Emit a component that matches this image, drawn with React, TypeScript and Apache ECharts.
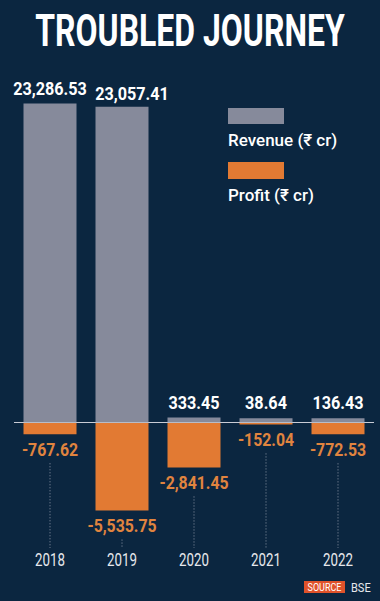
import React, { useEffect, useRef } from "react";
import * as echarts from "echarts";

const title = "TROUBLED JOURNEY";
const years = ["2018", "2019", "2020", "2021", "2022"];
const revenue = [23286.53, 23057.41, 333.45, 38.64, 136.43];
const profit = [-767.62, -5535.75, -2841.45, -152.04, -772.53];
const seriesNames = ["Revenue (₹ cr)", "Profit (₹ cr)"];
const sourceLabel = "SOURCE";
const sourceName = "BSE";

const BG = "#0b2640";
const GREY = "#868a9b";
const ORANGE = "#e27a33";
const ORANGE_TXT = "#e0843f";
const SANS = "Roboto, 'Noto Sans', sans-serif";
const MIN_H = 4;

const fmt = (v: number) =>
  v.toLocaleString("en-US", { minimumFractionDigits: 2, maximumFractionDigits: 2 });

export default function App() {
  const ref = useRef<HTMLDivElement>(null);
  useEffect(() => {
    document.body.style.margin = "0";
    const chart = echarts.init(ref.current!, null, { renderer: "svg" });
    chart.setOption({
      animation: false,
      backgroundColor: BG,
      grid: { left: 14, right: 6, top: 102, bottom: 79 },
      xAxis: {
        type: "category",
        data: years,
        axisLine: { show: false },
        axisTick: { show: false },
        axisLabel: { show: false },
      },
      yAxis: [
        { type: "value", min: -7300, max: 23400, show: false, splitLine: { show: false } },
        { type: "value", min: -6250, max: 20000, show: false, splitLine: { show: false } },
      ],
      series: [
        {
          name: seriesNames[0],
          type: "bar",
          yAxisIndex: 0,
          data: revenue,
          barWidth: 53,
          barGap: "-100%",
          barMinHeight: MIN_H,
          itemStyle: { color: GREY },
          markLine: {
            silent: true,
            symbol: "none",
            label: { show: false },
            lineStyle: { color: "#c9ccd6", type: "solid", width: 1 },
            data: [{ yAxis: 0 }],
          },
          z: 5,
        },
        {
          name: seriesNames[1],
          type: "bar",
          yAxisIndex: 1,
          data: profit,
          barWidth: 53,
          barGap: "-100%",
          itemStyle: { color: ORANGE },
          z: 3,
        },
        {
          type: "custom",
          yAxisIndex: 0,
          silent: true,
          data: revenue.map((v, i) => [i, v]),
          encode: { x: 0, y: 1 },
          renderItem: (params: any, api: any) => {
            const i = api.value(0);
            const pt = api.coord([i, api.value(1)]);
            const zero = api.coord([i, 0])[1];
            const top = Math.min(pt[1], zero - MIN_H);
            const dx = i === 1 ? 10 : 0;
            return {
              type: "text",
              x: pt[0] + dx,
              y: top - 6 + (i === 1 ? 2 : 0),
              scaleX: 0.9,
              style: {
                text: fmt(api.value(1)),
                fill: "#ffffff",
                font: `bold 18px ${SANS}`,
                align: "center",
                verticalAlign: "bottom",
              },
            };
          },
          z: 6,
        },
        {
          type: "custom",
          yAxisIndex: 1,
          silent: true,
          data: profit.map((v, i) => [i, v]),
          encode: { x: 0, y: 1 },
          renderItem: (params: any, api: any) => {
            const i = api.value(0);
            const pt = api.coord([i, api.value(1)]);
            const cs = params.coordSys;
            const bottom = cs.y + cs.height;
            return {
              type: "group",
              children: [
                {
                  type: "line",
                  shape: { x1: pt[0], y1: pt[1] + 29, x2: pt[0], y2: bottom + 26 },
                  style: { stroke: "#8d96a6", lineWidth: 1, lineDash: [1, 2] },
                },
                {
                  type: "text",
                  x: pt[0],
                  y: pt[1] + 6,
                  scaleX: 0.88,
                  style: {
                    text: fmt(api.value(1)),
                    fill: ORANGE_TXT,
                    font: `bold 18px ${SANS}`,
                    align: "center",
                    verticalAlign: "top",
                  },
                },
                {
                  type: "text",
                  x: pt[0],
                  y: bottom + 38,
                  scaleX: 0.74,
                  style: {
                    text: years[i],
                    fill: "#e6e8ec",
                    font: `18px ${SANS}`,
                    align: "center",
                    verticalAlign: "middle",
                  },
                },
              ],
            };
          },
          z: 6,
        },
      ],
      graphic: [
        {
          type: "text",
          x: 190,
          y: 31,
          scaleX: 0.71,
          style: {
            text: title,
            fill: "#ffffff",
            font: `bold 45px ${SANS}`,
            align: "center",
            verticalAlign: "middle",
          },
        },
        { type: "rect", shape: { x: 228, y: 108, width: 56, height: 16 }, style: { fill: GREY } },
        {
          type: "text",
          x: 228,
          y: 140,
          style: { text: seriesNames[0], fill: "#ffffff", font: `500 17px ${SANS}`, verticalAlign: "middle" },
        },
        { type: "rect", shape: { x: 228, y: 162, width: 56, height: 17 }, style: { fill: ORANGE } },
        {
          type: "text",
          x: 228,
          y: 195,
          style: { text: seriesNames[1], fill: "#ffffff", font: `500 17px ${SANS}`, verticalAlign: "middle" },
        },
        { type: "rect", shape: { x: 304, y: 581, width: 41, height: 12 }, style: { fill: "#e0522a" } },
        {
          type: "text",
          x: 324.5,
          y: 587.5,
          scaleX: 0.9,
          style: {
            text: sourceLabel,
            fill: "#ffffff",
            font: `10px ${SANS}`,
            align: "center",
            verticalAlign: "middle",
          },
        },
        {
          type: "text",
          x: 351,
          y: 588,
          scaleX: 0.85,
          style: { text: sourceName, fill: "#e6e8ec", font: `13px ${SANS}`, verticalAlign: "middle" },
        },
      ],
    });
    return () => chart.dispose();
  }, []);
  return <div ref={ref} style={{ width: 380, height: 601 }} />;
}
